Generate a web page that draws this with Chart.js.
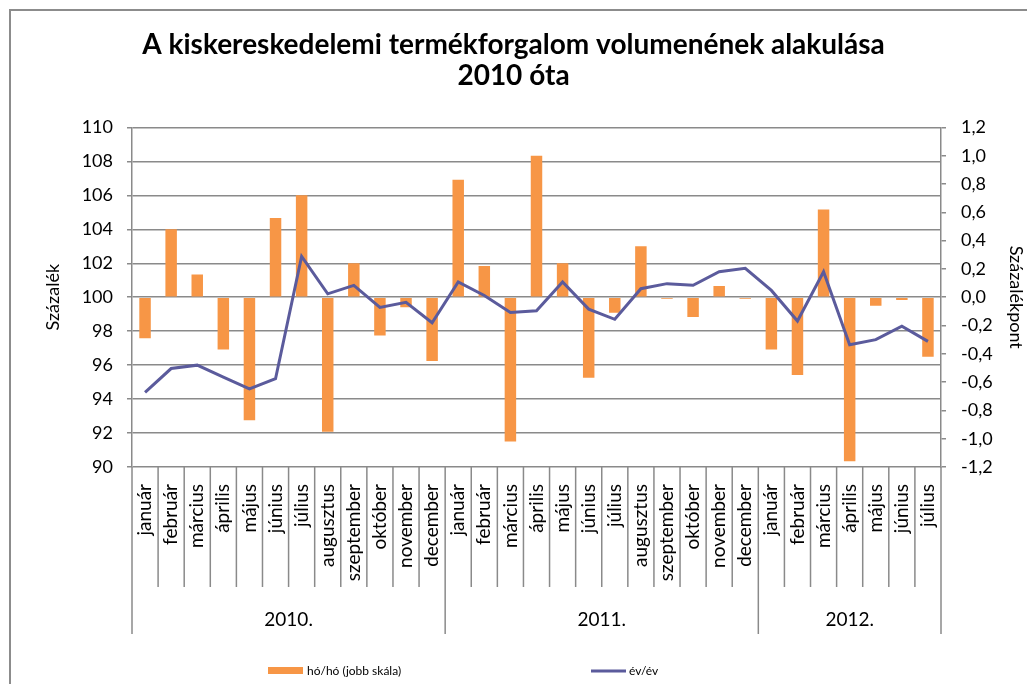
<!DOCTYPE html>
<html><head><meta charset="utf-8">
<script src="https://cdn.jsdelivr.net/npm/chart.js@4/dist/chart.umd.min.js"></script>
<style>html,body{margin:0;padding:0;background:#fff;overflow:hidden}#wrap{width:1027px;height:684px;position:relative}</style>
</head><body><div id="wrap"><canvas id="c" width="1027" height="684"></canvas></div>
<script>
const monthNames = ['január','február','március','április','május','június','július','augusztus','szeptember','október','november','december'];
const categories = [...monthNames, ...monthNames, ...monthNames.slice(0, 7)];
const years = ['2010.', '2011.', '2012.'];
const yearSpans = [12, 12, 7];
// hó/hó (jobb skála) — right axis, százalékpont
const momValues = [-0.29, 0.48, 0.16, -0.37, -0.87, 0.56, 0.72, -0.95, 0.24, -0.27, -0.07, -0.45,
                   0.83, 0.22, -1.02, 1.00, 0.24, -0.57, -0.11, 0.36, -0.01, -0.14, 0.08, -0.01,
                   -0.37, -0.55, 0.62, -1.16, -0.06, -0.02, -0.42];
// év/év — left axis, százalék
const yoyValues = [94.4, 95.8, 96.0, 95.3, 94.6, 95.2, 102.4, 100.2, 100.7, 99.4, 99.7, 98.5,
                   100.9, 100.1, 99.1, 99.2, 100.9, 99.3, 98.7, 100.5, 100.8, 100.7, 101.5, 101.7,
                   100.4, 98.6, 101.5, 97.2, 97.5, 98.3, 97.4];
const leftTickValues = [90, 92, 94, 96, 98, 100, 102, 104, 106, 108, 110];
const rightTickValues = [-1.2, -1.0, -0.8, -0.6, -0.4, -0.2, 0.0, 0.2, 0.4, 0.6, 0.8, 1.0, 1.2];
const seriesNames = ['hó/hó (jobb skála)', 'év/év'];
const titleLines = ['A kiskereskedelemi termékforgalom volumenének alakulása', '2010 óta'];

const FONT = 'Lato, "Open Sans", sans-serif';
const GRID = '#8a8a8a';
const ORANGE = '#F79646';
const PURPLE = '#5B5B9C';

const fmt = v => (Math.abs(v) < 1e-9 ? 0 : v).toFixed(1).replace('.', ',');

const decor = {
  id: 'decor',
  beforeDraw(chart) {
    const ctx = chart.ctx;
    ctx.save();
    ctx.fillStyle = '#fff';
    ctx.fillRect(0, 0, chart.width, chart.height);
    ctx.strokeStyle = '#8c8c8c';
    ctx.lineWidth = 2;
    ctx.beginPath();
    ctx.moveTo(10, chart.height + 5);
    ctx.lineTo(10, 10);
    ctx.lineTo(chart.width + 5, 10);
    ctx.stroke();
    ctx.restore();
  },
  afterDraw(chart) {
    const ctx = chart.ctx, a = chart.chartArea, xs = chart.scales.x;
    const n = categories.length;
    const w = xs.getPixelForValue(1) - xs.getPixelForValue(0);
    const bounds = [];
    for (let i = 0; i <= n; i++) {
      bounds.push(i === 0 ? a.left : i === n ? a.right : xs.getPixelForValue(i) - w / 2);
    }
    const groupEdges = new Set([0]);
    let acc = 0;
    yearSpans.forEach(s => { acc += s; groupEdges.add(acc); });
    ctx.save();
    ctx.strokeStyle = GRID;
    ctx.lineWidth = 1.5;
    bounds.forEach((px, i) => {
      ctx.beginPath();
      ctx.moveTo(px, a.bottom);
      ctx.lineTo(px, groupEdges.has(i) ? a.bottom + 167 : a.bottom + 120);
      ctx.stroke();
    });
    ctx.fillStyle = '#000';
    ctx.font = '19px ' + FONT;
    ctx.textAlign = 'center';
    ctx.textBaseline = 'middle';
    let start = 0;
    years.forEach((y, k) => {
      const end = start + yearSpans[k];
      ctx.fillText(y, (bounds[start] + bounds[end]) / 2, a.bottom + 153);
      start = end;
    });
    // legend
    const ly = 671;
    ctx.fillStyle = ORANGE;
    ctx.fillRect(268, ly - 4, 35, 7);
    ctx.fillStyle = '#000';
    ctx.font = '12px ' + FONT;
    ctx.textAlign = 'left';
    ctx.fillText(seriesNames[0], 307, ly);
    ctx.strokeStyle = PURPLE;
    ctx.lineWidth = 3;
    ctx.beginPath();
    ctx.moveTo(591, ly);
    ctx.lineTo(626, ly);
    ctx.stroke();
    ctx.fillText(seriesNames[1], 629, ly);
    ctx.restore();
  }
};

new Chart(document.getElementById('c'), {
  type: 'bar',
  data: {
    labels: categories,
    datasets: [
      { type: 'line', label: seriesNames[1], data: yoyValues, yAxisID: 'y', borderColor: PURPLE,
        borderWidth: 3, pointRadius: 0, tension: 0, fill: false, order: 0 },
      { type: 'bar', label: seriesNames[0], data: momValues, yAxisID: 'y1', backgroundColor: ORANGE,
        barPercentage: 0.44, categoryPercentage: 1, order: 1 }
    ]
  },
  options: {
    responsive: false, animation: false, devicePixelRatio: 1,
    layout: { padding: 0 },
    plugins: {
      legend: { display: false },
      tooltip: { enabled: false },
      title: { display: true, text: titleLines, color: '#000',
        font: { family: FONT, size: 28, weight: 'bold', lineHeight: 1.11 },
        padding: { top: 29.5, bottom: 35.8 } }
    },
    scales: {
      x: {
        type: 'category',
        grid: { display: false, drawTicks: false },
        border: { display: false },
        ticks: { minRotation: 90, maxRotation: 90, autoSkip: false, padding: 17, color: '#000',
          font: { family: FONT, size: 19 } },
        afterFit(s) { s.height = 217; }
      },
      y: {
        position: 'left', min: 90, max: 110,
        afterBuildTicks(s) { s.ticks = leftTickValues.map(v => ({ value: v })); },
        ticks: { padding: 14, color: '#000', font: { family: FONT, size: 18 } },
        grid: { color: GRID, lineWidth: 1.5, tickLength: 5, drawTicks: true },
        border: { color: GRID, width: 1.5 },
        title: { display: true, text: 'Százalék', color: '#000', font: { family: FONT, size: 18 },
          padding: { top: 42, bottom: 0 } },
        afterFit(s) { s.width = 132; }
      },
      y1: {
        position: 'right', min: -1.2, max: 1.2,
        afterBuildTicks(s) { s.ticks = rightTickValues.map(v => ({ value: v })); },
        ticks: { padding: 15, color: '#000', font: { family: FONT, size: 18 }, callback: v => fmt(v) },
        grid: { drawOnChartArea: false, color: GRID, lineWidth: 1.5, tickLength: 5, drawTicks: true },
        border: { color: GRID, width: 1.5 },
        title: { display: true, text: 'Százalékpont', color: '#000', font: { family: FONT, size: 18 },
          padding: { top: 0, bottom: 0 } },
        afterFit(s) { s.width = 86; }
      }
    }
  },
  plugins: [decor]
});
</script>
</body></html>
